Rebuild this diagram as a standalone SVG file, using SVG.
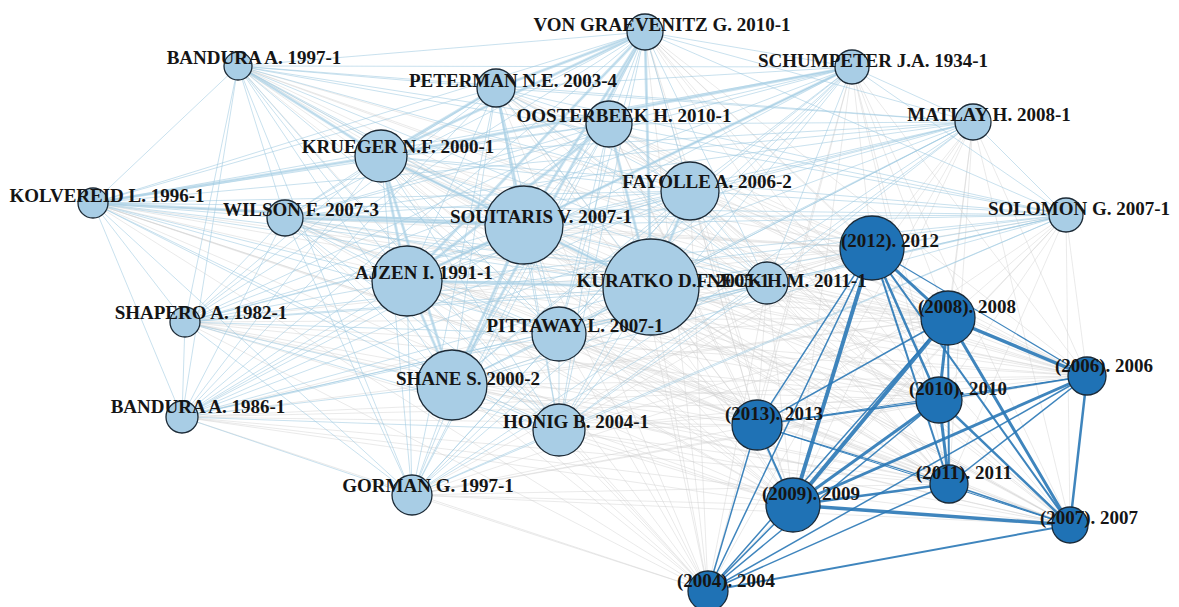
<svg xmlns="http://www.w3.org/2000/svg" width="1179" height="607" viewBox="0 0 1179 607">
<style>
.gx{fill:none;stroke:#cfcfcf;stroke-width:0.8;stroke-opacity:0.55}
.ll{fill:none;stroke:#9cc8e0;stroke-width:1;stroke-opacity:0.55}
.lt{fill:none;stroke:#a6cee3;stroke-width:3;stroke-opacity:0.55}
.dd{fill:none;stroke:#2a78b6;stroke-opacity:0.9;stroke-linecap:round}
.nl{fill:#a8cde5;stroke:#1c2a36;stroke-width:1.3}
.nd{fill:#1f72b5;stroke:#1a2a38;stroke-width:1.3}
text{font-family:"Liberation Serif","Times New Roman",serif;font-weight:bold;font-size:19px;fill:#151515;text-anchor:middle}
</style>
<rect width="1179" height="607" fill="#ffffff"/>
<g id="connectors">
<path class="gx" d="M872 248L238 66M872 248L645 32M872 248L852 67M872 248L496 88M872 248L609 124M872 248L973 122M872 248L381 156M872 248L690 191M872 248L93 203M872 248L285 218M872 248L524 225M872 248L1066 215M872 248L407 281M872 248L651 287M872 248L767 283M872 248L185 322M872 248L559 334M872 248L452 385M872 248L182 417M872 248L559 430M872 248L412 495
M948 318L238 66M948 318L645 32M948 318L852 67M948 318L496 88M948 318L609 124M948 318L973 122M948 318L381 156M948 318L690 191M948 318L93 203M948 318L285 218M948 318L524 225M948 318L1066 215M948 318L407 281M948 318L651 287M948 318L767 283M948 318L185 322M948 318L559 334M948 318L452 385M948 318L182 417M948 318L559 430M948 318L412 495
M1087 376L238 66M1087 376L645 32M1087 376L852 67M1087 376L496 88M1087 376L609 124M1087 376L973 122M1087 376L381 156M1087 376L690 191M1087 376L93 203M1087 376L285 218M1087 376L524 225M1087 376L1066 215M1087 376L407 281M1087 376L651 287M1087 376L767 283M1087 376L185 322M1087 376L559 334M1087 376L452 385M1087 376L182 417M1087 376L559 430M1087 376L412 495
M939 400L238 66M939 400L645 32M939 400L852 67M939 400L496 88M939 400L609 124M939 400L973 122M939 400L381 156M939 400L690 191M939 400L93 203M939 400L285 218M939 400L524 225M939 400L1066 215M939 400L407 281M939 400L651 287M939 400L767 283M939 400L185 322M939 400L559 334M939 400L452 385M939 400L182 417M939 400L559 430M939 400L412 495
M757 425L238 66M757 425L645 32M757 425L852 67M757 425L496 88M757 425L609 124M757 425L973 122M757 425L381 156M757 425L690 191M757 425L93 203M757 425L285 218M757 425L524 225M757 425L1066 215M757 425L407 281M757 425L651 287M757 425L767 283M757 425L185 322M757 425L559 334M757 425L452 385M757 425L182 417M757 425L559 430M757 425L412 495
M949 484L238 66M949 484L645 32M949 484L852 67M949 484L496 88M949 484L609 124M949 484L973 122M949 484L381 156M949 484L690 191M949 484L93 203M949 484L285 218M949 484L524 225M949 484L1066 215M949 484L407 281M949 484L651 287M949 484L767 283M949 484L185 322M949 484L559 334M949 484L452 385M949 484L182 417M949 484L559 430M949 484L412 495
M793 505L238 66M793 505L645 32M793 505L852 67M793 505L496 88M793 505L609 124M793 505L973 122M793 505L381 156M793 505L690 191M793 505L93 203M793 505L285 218M793 505L524 225M793 505L1066 215M793 505L407 281M793 505L651 287M793 505L767 283M793 505L185 322M793 505L559 334M793 505L452 385M793 505L182 417M793 505L559 430M793 505L412 495
M1070 525L238 66M1070 525L645 32M1070 525L852 67M1070 525L496 88M1070 525L609 124M1070 525L973 122M1070 525L381 156M1070 525L690 191M1070 525L93 203M1070 525L285 218M1070 525L524 225M1070 525L1066 215M1070 525L407 281M1070 525L651 287M1070 525L767 283M1070 525L185 322M1070 525L559 334M1070 525L452 385M1070 525L182 417M1070 525L559 430M1070 525L412 495
M708 591L238 66M708 591L645 32M708 591L852 67M708 591L496 88M708 591L609 124M708 591L973 122M708 591L381 156M708 591L690 191M708 591L93 203M708 591L285 218M708 591L524 225M708 591L1066 215M708 591L407 281M708 591L651 287M708 591L767 283M708 591L185 322M708 591L559 334M708 591L452 385M708 591L182 417M708 591L559 430M708 591L412 495"/>
<path class="ll" d="M238 66L645 32M238 66L852 67M238 66L496 88M238 66L609 124M238 66L973 122M238 66L381 156M238 66L690 191M238 66L93 203M238 66L285 218M238 66L524 225M238 66L1066 215M238 66L407 281M238 66L651 287M238 66L767 283M238 66L185 322M238 66L559 334M238 66L452 385M238 66L182 417M238 66L559 430M238 66L412 495
M645 32L852 67M645 32L496 88M645 32L609 124M645 32L973 122M645 32L381 156M645 32L690 191M645 32L93 203M645 32L285 218M645 32L524 225M645 32L1066 215M645 32L407 281M645 32L651 287M645 32L767 283M645 32L185 322M645 32L559 334M645 32L452 385M645 32L182 417M645 32L559 430M645 32L412 495
M852 67L496 88M852 67L609 124M852 67L973 122M852 67L381 156M852 67L690 191M852 67L93 203M852 67L285 218M852 67L524 225M852 67L1066 215M852 67L407 281M852 67L651 287M852 67L767 283M852 67L185 322M852 67L559 334M852 67L452 385M852 67L182 417M852 67L559 430M852 67L412 495
M496 88L609 124M496 88L973 122M496 88L381 156M496 88L690 191M496 88L93 203M496 88L285 218M496 88L524 225M496 88L1066 215M496 88L407 281M496 88L651 287M496 88L767 283M496 88L185 322M496 88L559 334M496 88L452 385M496 88L182 417M496 88L559 430M496 88L412 495
M609 124L973 122M609 124L381 156M609 124L690 191M609 124L93 203M609 124L285 218M609 124L524 225M609 124L1066 215M609 124L407 281M609 124L651 287M609 124L767 283M609 124L185 322M609 124L559 334M609 124L452 385M609 124L182 417M609 124L559 430M609 124L412 495
M973 122L381 156M973 122L690 191M973 122L93 203M973 122L285 218M973 122L524 225M973 122L1066 215M973 122L407 281M973 122L651 287M973 122L767 283M973 122L185 322M973 122L559 334M973 122L452 385M973 122L182 417M973 122L559 430M973 122L412 495
M381 156L690 191M381 156L93 203M381 156L285 218M381 156L524 225M381 156L1066 215M381 156L407 281M381 156L651 287M381 156L767 283M381 156L185 322M381 156L559 334M381 156L452 385M381 156L182 417M381 156L559 430M381 156L412 495
M690 191L93 203M690 191L285 218M690 191L524 225M690 191L1066 215M690 191L407 281M690 191L651 287M690 191L767 283M690 191L185 322M690 191L559 334M690 191L452 385M690 191L182 417M690 191L559 430M690 191L412 495
M93 203L285 218M93 203L524 225M93 203L1066 215M93 203L407 281M93 203L651 287M93 203L767 283M93 203L185 322M93 203L559 334M93 203L452 385M93 203L182 417M93 203L559 430M93 203L412 495
M285 218L524 225M285 218L1066 215M285 218L407 281M285 218L651 287M285 218L767 283M285 218L185 322M285 218L559 334M285 218L452 385M285 218L182 417M285 218L559 430M285 218L412 495
M524 225L1066 215M524 225L407 281M524 225L651 287M524 225L767 283M524 225L185 322M524 225L559 334M524 225L452 385M524 225L182 417M524 225L559 430M524 225L412 495
M1066 215L407 281M1066 215L651 287M1066 215L767 283M1066 215L185 322M1066 215L559 334M1066 215L452 385M1066 215L182 417M1066 215L559 430M1066 215L412 495
M407 281L651 287M407 281L767 283M407 281L185 322M407 281L559 334M407 281L452 385M407 281L182 417M407 281L559 430M407 281L412 495
M651 287L767 283M651 287L185 322M651 287L559 334M651 287L452 385M651 287L182 417M651 287L559 430M651 287L412 495
M767 283L185 322M767 283L559 334M767 283L452 385M767 283L182 417M767 283L559 430M767 283L412 495
M185 322L559 334M185 322L452 385M185 322L182 417M185 322L559 430M185 322L412 495
M559 334L452 385M559 334L182 417M559 334L559 430M559 334L412 495
M452 385L182 417M452 385L559 430M452 385L412 495
M182 417L559 430M182 417L412 495
M559 430L412 495"/>
<path class="lt" d="M645 32L381 156M645 32L524 225M645 32L407 281M645 32L651 287M645 32L452 385M645 32L496 88M93 203L381 156M93 203L524 225M381 156L524 225M381 156L407 281M524 225L407 281M524 225L651 287M407 281L651 287M496 88L524 225M609 124L651 287M852 67L524 225M690 191L651 287M238 66L381 156M285 218L524 225M524 225L452 385M407 281L452 385M852 67L381 156M496 88L381 156M381 156L452 385M609 124L407 281"/>
<g class="dd">
<path stroke-width="3" d="M872 248L948 318"/>
<path stroke-width="1.2" d="M872 248L1087 376"/>
<path stroke-width="2.5" d="M872 248L939 400"/>
<path stroke-width="1.5" d="M872 248L757 425"/>
<path stroke-width="2" d="M872 248L949 484"/>
<path stroke-width="4" d="M872 248L793 505"/>
<path stroke-width="2" d="M872 248L1070 525"/>
<path stroke-width="1.5" d="M872 248L708 591"/>
<path stroke-width="3.5" d="M948 318L1087 376"/>
<path stroke-width="3" d="M948 318L939 400"/>
<path stroke-width="1.5" d="M948 318L757 425"/>
<path stroke-width="2" d="M948 318L949 484"/>
<path stroke-width="4" d="M948 318L793 505"/>
<path stroke-width="3" d="M948 318L1070 525"/>
<path stroke-width="1.5" d="M948 318L708 591"/>
<path stroke-width="1.5" d="M1087 376L939 400"/>
<path stroke-width="1" d="M1087 376L757 425"/>
<path stroke-width="1.5" d="M1087 376L949 484"/>
<path stroke-width="3" d="M1087 376L793 505"/>
<path stroke-width="2.5" d="M1087 376L1070 525"/>
<path stroke-width="1.5" d="M1087 376L708 591"/>
<path stroke-width="1.5" d="M939 400L757 425"/>
<path stroke-width="3" d="M939 400L949 484"/>
<path stroke-width="3" d="M939 400L793 505"/>
<path stroke-width="2.5" d="M939 400L1070 525"/>
<path stroke-width="1.5" d="M939 400L708 591"/>
<path stroke-width="1.2" d="M757 425L949 484"/>
<path stroke-width="2" d="M757 425L793 505"/>
<path stroke-width="1" d="M757 425L1070 525"/>
<path stroke-width="1.5" d="M757 425L708 591"/>
<path stroke-width="2.5" d="M949 484L793 505"/>
<path stroke-width="1.5" d="M949 484L1070 525"/>
<path stroke-width="1.5" d="M949 484L708 591"/>
<path stroke-width="3.5" d="M793 505L1070 525"/>
<path stroke-width="1.5" d="M793 505L708 591"/>
<path stroke-width="2" d="M1070 525L708 591"/>
</g>
</g>
<g id="n2012"><circle class="nd" cx="872" cy="248" r="32"/><text x="890" y="247">(2012). 2012</text></g>
<g id="n2008"><circle class="nd" cx="948" cy="318" r="27"/><text x="967" y="313">(2008). 2008</text></g>
<g id="n2006"><circle class="nd" cx="1087" cy="376" r="19"/><text x="1104" y="372">(2006). 2006</text></g>
<g id="n2010"><circle class="nd" cx="939" cy="400" r="23"/><text x="958" y="395">(2010). 2010</text></g>
<g id="n2013"><circle class="nd" cx="757" cy="425" r="25"/><text x="774" y="420">(2013). 2013</text></g>
<g id="n2011"><circle class="nd" cx="949" cy="484" r="19"/><text x="964" y="479">(2011). 2011</text></g>
<g id="n2009"><circle class="nd" cx="793" cy="505" r="27"/><text x="811" y="500">(2009). 2009</text></g>
<g id="n2007"><circle class="nd" cx="1070" cy="525" r="18"/><text x="1089" y="524">(2007). 2007</text></g>
<g id="n2004"><circle class="nd" cx="708" cy="591" r="20"/><text x="726" y="587">(2004). 2004</text></g>
<g id="bandura1997"><circle class="nl" cx="238" cy="66" r="14"/><text x="254" y="64">BANDURA A. 1997-1</text></g>
<g id="vongraevenitz"><circle class="nl" cx="645" cy="32" r="18"/><text x="662" y="31">VON GRAEVENITZ G. 2010-1</text></g>
<g id="schumpeter"><circle class="nl" cx="852" cy="67" r="17"/><text x="873" y="67">SCHUMPETER J.A. 1934-1</text></g>
<g id="peterman"><circle class="nl" cx="496" cy="88" r="19"/><text x="513" y="87">PETERMAN N.E. 2003-4</text></g>
<g id="oosterbeek"><circle class="nl" cx="609" cy="124" r="23"/><text x="624" y="122">OOSTERBEEK H. 2010-1</text></g>
<g id="matlay"><circle class="nl" cx="973" cy="122" r="18"/><text x="989" y="121">MATLAY H. 2008-1</text></g>
<g id="krueger"><circle class="nl" cx="381" cy="156" r="26"/><text x="398" y="153">KRUEGER N.F. 2000-1</text></g>
<g id="fayolle"><circle class="nl" cx="690" cy="191" r="29"/><text x="707" y="188">FAYOLLE A. 2006-2</text></g>
<g id="kolvereid"><circle class="nl" cx="93" cy="203" r="15"/><text x="107" y="202">KOLVEREID L. 1996-1</text></g>
<g id="wilson"><circle class="nl" cx="285" cy="218" r="18"/><text x="301" y="216">WILSON F. 2007-3</text></g>
<g id="souitaris"><circle class="nl" cx="524" cy="225" r="39"/><text x="541" y="223">SOUITARIS V. 2007-1</text></g>
<g id="solomon"><circle class="nl" cx="1066" cy="215" r="17"/><text x="1079" y="215">SOLOMON G. 2007-1</text></g>
<g id="ajzen"><circle class="nl" cx="407" cy="281" r="35"/><text x="424" y="279">AJZEN I. 1991-1</text></g>
<g id="neck"><circle class="nl" cx="767" cy="283" r="21"/><text x="787" y="287">NECK H.M. 2011-1</text></g>
<g id="kuratko"><circle class="nl" cx="651" cy="287" r="48"/><text x="673" y="287">KURATKO D.F. 2005-1</text></g>
<g id="shapero"><circle class="nl" cx="185" cy="322" r="15"/><text x="201" y="319">SHAPERO A. 1982-1</text></g>
<g id="pittaway"><circle class="nl" cx="559" cy="334" r="27"/><text x="575" y="332">PITTAWAY L. 2007-1</text></g>
<g id="shane"><circle class="nl" cx="452" cy="385" r="35"/><text x="468" y="385">SHANE S. 2000-2</text></g>
<g id="bandura1986"><circle class="nl" cx="182" cy="417" r="16"/><text x="198" y="413">BANDURA A. 1986-1</text></g>
<g id="honig"><circle class="nl" cx="559" cy="430" r="26"/><text x="576" y="428">HONIG B. 2004-1</text></g>
<g id="gorman"><circle class="nl" cx="412" cy="495" r="20"/><text x="428" y="492">GORMAN G. 1997-1</text></g>
</svg>
